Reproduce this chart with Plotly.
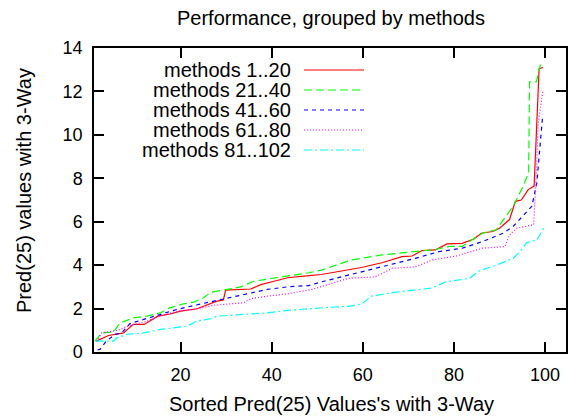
import plotly.graph_objects as go

# ---- data ----
names = ["methods 1..20", "methods 21..40", "methods 41..60", "methods 61..80", "methods 81..102"]
colors = ["#ff0000", "#00ff00", "#0000ff", "#ff00ff", "#00ffff"]
dashes = ["solid", "8px,4px", "4px,4px", "1px,2px", "8px,3px,2px,3px"]

x_m1 = [1.5, 2.5, 4.2, 7.5, 9.6, 12, 13.3, 15, 17.7, 20, 23.6, 25.8, 28, 29.4, 29.9, 35.4, 37.6, 40.5,
        43.5, 48.2, 50.9, 55, 59.7, 64.2, 68.6, 70.8, 73, 75.9, 78.5, 81.8, 84.4, 86, 88.5, 90,
        92.2, 93.5, 94.8, 96.3, 97.6, 98.7, 99.6]
y_m1 = [0.5, 0.6, 0.76, 0.88, 1.27, 1.27, 1.42, 1.65, 1.75, 1.88, 1.99, 2.15, 2.34, 2.4, 2.85, 2.9, 3.1, 3.26,
        3.42, 3.52, 3.57, 3.72, 3.89, 4.11, 4.39, 4.42, 4.67, 4.7, 4.98, 5.0, 5.2, 5.47, 5.55, 5.7,
        6.1, 6.94, 7.0, 7.48, 7.64, 13.05, 13.1]

x_m2 = [1.2, 2.7, 5.3, 6.7, 9.7, 12.6, 15.5, 17.6, 20.7, 22.9, 25.1, 26.6, 30.2, 33.2, 36.1, 39.8, 43.5,
        48.2, 50.9, 57.5, 64.2, 71.5, 75.9, 78.9, 81.8, 84, 86.3, 89.3, 90.8, 93, 95.2, 96.4, 96.6,
        98.1, 99]
y_m2 = [0.5, 0.88, 0.92, 1.34, 1.57, 1.65, 1.8, 2.03, 2.22, 2.3, 2.5, 2.75, 2.88, 3.0, 3.26, 3.37, 3.49,
        3.65, 3.77, 4.24, 4.47, 4.63, 4.72, 4.86, 4.86, 5.17, 5.47, 5.63, 6.09, 6.71, 7.64, 8.27, 12.44,
        12.44, 13.24]

x_m3 = [1.8, 2.3, 3.7, 5.6, 7.1, 8.9, 11.9, 15.5, 19.2, 22.9, 27.3, 30.2, 34.6, 39, 43.5, 48.2, 50.9,
        59.7, 65.6, 71.5, 76.7, 81.8, 86.3, 90.8, 93, 94.5, 97.1, 98.2, 98.8, 99.5]
y_m3 = [0.1, 0.12, 0.5, 0.81, 0.88, 1.31, 1.5, 1.73, 1.96, 2.14, 2.34, 2.45, 2.65, 2.88, 3.0, 3.06, 3.23,
        3.69, 4.0, 4.31, 4.62, 4.78, 5.09, 5.47, 5.78, 6.12, 6.71, 7.79, 9.2, 10.94]

x_m4 = [1.6, 2.7, 6.3, 8.9, 12.6, 15.5, 19.2, 22.9, 27.3, 30.2, 33.9, 35.4, 39, 43.5, 48.8, 56.8,
        62.7, 66.4, 71.5, 75.3, 80.5, 86.3, 91.2, 92.2, 93.8, 97.5, 98, 98.5, 99.5]
y_m4 = [0.5, 0.88, 1.0, 1.22, 1.42, 1.65, 1.88, 1.96, 2.15, 2.19, 2.27, 2.45, 2.57, 2.68, 2.88, 3.39,
        3.46, 3.85, 3.92, 4.24, 4.42, 4.78, 4.86, 5.39, 5.7, 5.86, 7.8, 10.5, 12.0]

x_m5 = [1.4, 5.3, 6, 8.2, 11.9, 15.5, 18.5, 21.4, 23.6, 26.6, 28, 33.9, 39, 43.5, 48.2, 52, 56.8, 59.7,
        61.9, 67.8, 75.3, 78.2, 83.4, 85.6, 89.3, 93, 94.5, 96, 98.2, 99.7]
y_m5 = [0.5, 0.5, 0.65, 0.81, 0.88, 1.04, 1.11, 1.19, 1.42, 1.53, 1.65, 1.73, 1.8, 1.92, 2.0, 2.05, 2.1, 2.2,
        2.57, 2.77, 2.95, 3.23, 3.39, 3.74, 4.0, 4.31, 4.63, 5.04, 5.16, 5.7]

xs = [x_m1, x_m2, x_m3, x_m4, x_m5]
ys = [y_m1, y_m2, y_m3, y_m4, y_m5]

x_ticks = [20, 40, 60, 80, 100]
y_ticks = [0, 2, 4, 6, 8, 10, 12, 14]

title_text = "Performance, grouped by methods"
x_title = "Sorted Pred(25) Values's with 3-Way"
y_title = "Pred(25) values with 3-Way"

FONT = "Liberation Sans, Arial, Helvetica, sans-serif"
FS = 20      # titles / legend
FS_TICK = 18

fig = go.Figure()
for xv, yv, n, c, d in zip(xs, ys, names, colors, dashes):
    fig.add_trace(go.Scatter(x=xv, y=yv, mode="lines", name=n,
                             line=dict(color=c, width=1.2, dash=d), showlegend=False))

W, H = 568, 416
L, R, T, B = 94, 2, 48, 64
pw, ph = W - L - R, H - T - B

def px(xp):
    return (xp - L) / pw

def py(yp):
    return (H - B - yp) / ph

annotations = []
shapes = []
# gnuplot-style legend: right-aligned text then sample line
for i, (n, c, d) in enumerate(zip(names, colors, dashes)):
    yrow = 70 + 20 * i
    annotations.append(dict(x=px(293), y=py(yrow), xref="paper", yref="paper",
                            text=n, showarrow=False, xanchor="right", yanchor="middle",
                            font=dict(family=FONT, size=FS, color="black")))
    shapes.append(dict(type="line", xref="paper", yref="paper",
                       x0=px(304), x1=px(364), y0=py(yrow), y1=py(yrow),
                       line=dict(color=c, width=1.2, dash=d)))

annotations.append(dict(x=px(331), y=py(18), xref="paper", yref="paper", text=title_text,
                        showarrow=False, xanchor="center", yanchor="middle",
                        font=dict(family=FONT, size=FS, color="black")))
annotations.append(dict(x=px(331), y=py(416), xref="paper", yref="paper", text=x_title,
                        showarrow=False, xanchor="center", yanchor="bottom", borderpad=0,
                        font=dict(family=FONT, size=FS, color="black")))
annotations.append(dict(x=px(24), y=py(191), xref="paper", yref="paper", text=y_title,
                        showarrow=False, xanchor="center", yanchor="middle", textangle=-90,
                        font=dict(family=FONT, size=FS, color="black")))

fig.update_layout(
    width=W, height=H,
    margin=dict(l=L, r=R, t=T, b=B, autoexpand=False),
    paper_bgcolor="white", plot_bgcolor="white",
    font=dict(family=FONT, size=FS_TICK, color="black"),
    annotations=annotations, shapes=shapes,
    xaxis=dict(range=[1, 104.6], tickvals=x_ticks, ticks="inside", ticklen=10, tickwidth=1.5,
               tickcolor="black", showline=True, linecolor="black", linewidth=1.5, mirror="ticks",
               showgrid=False, zeroline=False, ticklabelstandoff=6,
               tickfont=dict(family=FONT, size=FS_TICK, color="black")),
    yaxis=dict(range=[0, 14], tickvals=y_ticks, ticks="inside", ticklen=10, tickwidth=1.5,
               tickcolor="black", showline=True, linecolor="black", linewidth=1.5, mirror="ticks",
               showgrid=False, zeroline=False, ticklabelstandoff=6,
               tickfont=dict(family=FONT, size=FS_TICK, color="black")),
)

fig.write_html("out.html")
